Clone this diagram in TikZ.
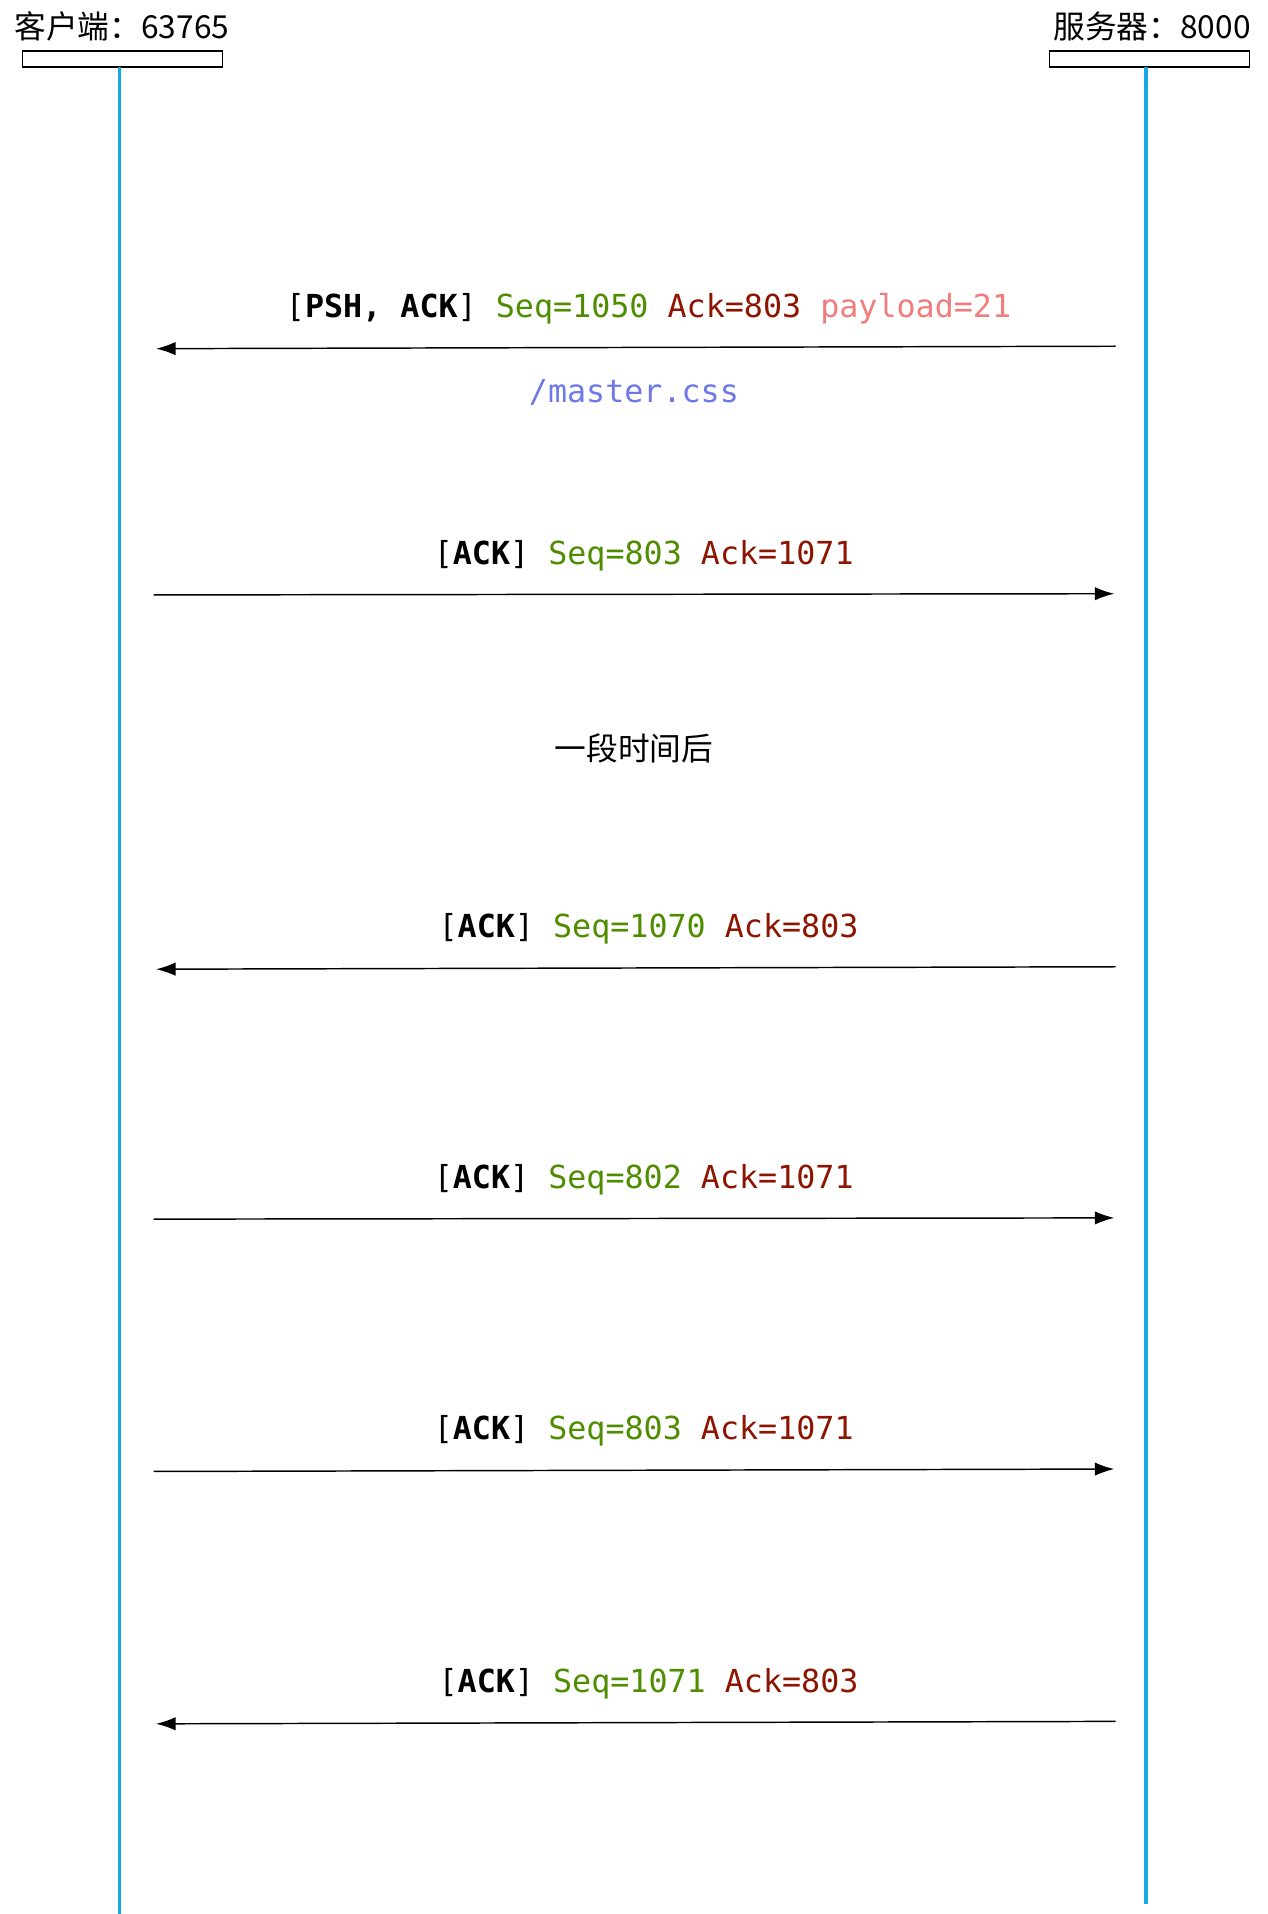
\documentclass[tikz,border=0pt]{standalone}
\usepackage{fontspec}
\setmonofont{DejaVu Sans Mono}
\newfontfamily\cjk{Noto Sans CJK SC}
\usetikzlibrary{arrows.meta}
\definecolor{life}{RGB}{20,170,225}
\definecolor{seqc}{RGB}{78,140,0}
\definecolor{ackc}{RGB}{140,20,0}
\definecolor{payc}{RGB}{240,125,125}
\definecolor{pathc}{RGB}{110,120,230}
\tikzset{
  lifeline/.style={draw=life, line width=2.5pt},
  hdrbox/.style={draw, line width=1.2pt, minimum width=164pt, minimum height=13pt, inner sep=0},
  hdr/.style={font=\cjk\fontsize{26}{30}\selectfont, inner sep=0},
  msg/.style={font=\ttfamily\fontsize{26}{30}\selectfont, inner sep=0},
  msgline/.style={line width=1.2pt, -{Latex[length=16pt,width=11pt]}},
}
\begin{document}
\begin{tikzpicture}[x=1pt,y=-1pt]
\useasboundingbox (0,0) rectangle (1040,1570);
\node[hdr] (cl) at (100,22) {客户端：63765};
\node[hdr] (sv) at (945,22) {服务器：8000};
\node[hdrbox] (cbox) at (100.5,48.5) {};
\node[hdrbox] (sbox) at (943,48.5) {};
\coordinate (ctop) at (98,55); \coordinate (cbot) at (98,1570);
\coordinate (stop) at (940,55); \coordinate (sbot) at (940,1562);
\draw[lifeline] (ctop) -- (cbot);
\draw[lifeline] (stop) -- (sbot);
% message 1
\coordinate (s1) at (915,284); \coordinate (e1) at (128,286);
\draw[msgline] (s1) -- (e1);
\node[msg] (l1) at (532,253) {[\textbf{PSH, ACK}] \textcolor{seqc}{Seq=1050} \textcolor{ackc}{Ack=803} \textcolor{payc}{payload=21}};
\node[msg, text=pathc] (p1) at (520,322) {/master.css};
% message 2
\coordinate (s2) at (126,488); \coordinate (e2) at (914,487);
\draw[msgline] (s2) -- (e2);
\node[msg] (l2) at (528,456) {[\textbf{ACK}] \textcolor{seqc}{Seq=803} \textcolor{ackc}{Ack=1071}};
\node[hdr] (gap) at (520,614) {一段时间后};
% message 3
\coordinate (s3) at (915,793); \coordinate (e3) at (128,795);
\draw[msgline] (s3) -- (e3);
\node[msg] (l3) at (532,762) {[\textbf{ACK}] \textcolor{seqc}{Seq=1070} \textcolor{ackc}{Ack=803}};
% message 4
\coordinate (s4) at (126,1000); \coordinate (e4) at (914,999);
\draw[msgline] (s4) -- (e4);
\node[msg] (l4) at (528,968) {[\textbf{ACK}] \textcolor{seqc}{Seq=802} \textcolor{ackc}{Ack=1071}};
% message 5
\coordinate (s5) at (126,1207); \coordinate (e5) at (914,1205);
\draw[msgline] (s5) -- (e5);
\node[msg] (l5) at (528,1174) {[\textbf{ACK}] \textcolor{seqc}{Seq=803} \textcolor{ackc}{Ack=1071}};
% message 6
\coordinate (s6) at (915,1412); \coordinate (e6) at (128,1414);
\draw[msgline] (s6) -- (e6);
\node[msg] (l6) at (532,1381) {[\textbf{ACK}] \textcolor{seqc}{Seq=1071} \textcolor{ackc}{Ack=803}};
\end{tikzpicture}
\end{document}
